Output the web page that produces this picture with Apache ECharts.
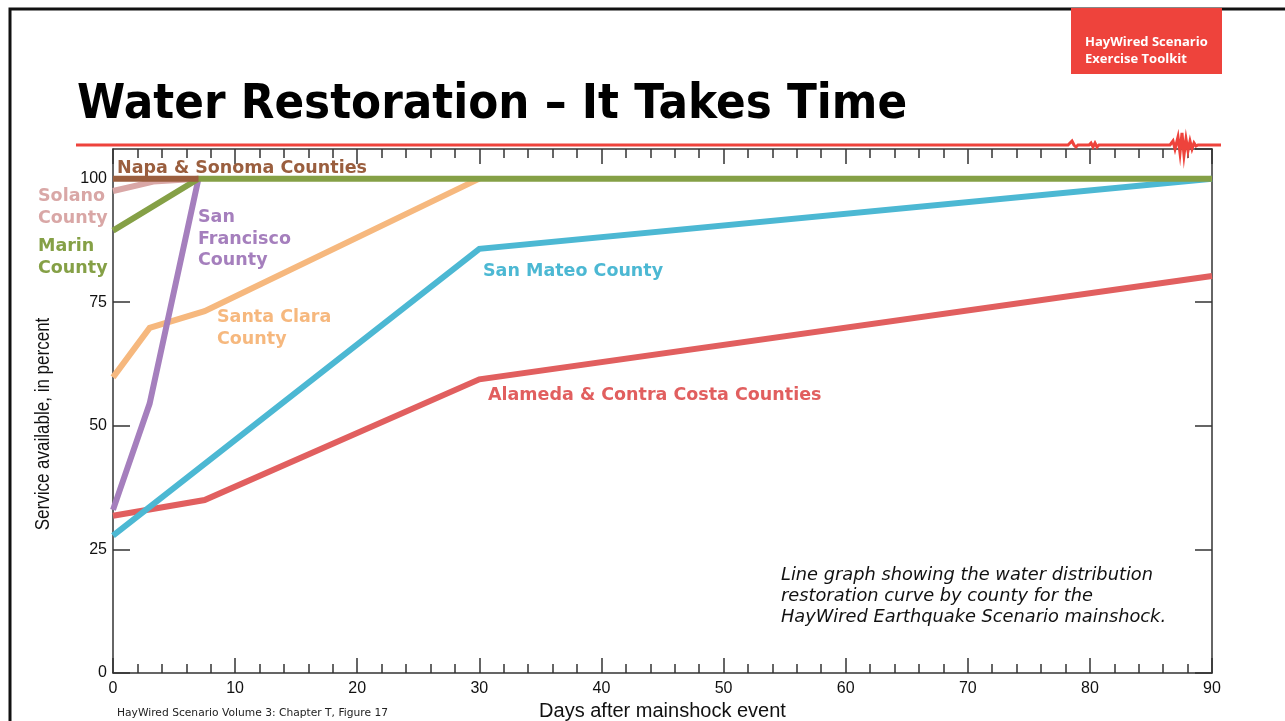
<!DOCTYPE html>
<html><head><meta charset="utf-8">
<script src="https://cdn.jsdelivr.net/npm/echarts@6/dist/echarts.min.js"></script>
<style>html,body{margin:0;padding:0;background:#fff}#c{width:1285px;height:721px}</style>
</head><body><div id="c"></div>
<script>
// Data (days after mainshock, percent service available)
const napaSonoma = [[0,100],[7,100]];
const solano = [[0,97.5],[3.3,99.4],[7,100]];
const marin = [[0,89.5],[7,100],[90,100]];
const sanFrancisco = [[0,33],[3,54.5],[7,100]];
const santaClara = [[0,59.8],[3,69.8],[7.5,73.2],[30,100]];
const sanMateo = [[0,27.8],[30,85.8],[90,100]];
const alameda = [[0,31.8],[7.5,35],[30,59.4],[90,80.3]];
const xTicks = [0,10,20,30,40,50,60,70,80,90];
const yTicks = [0,25,50,75,100];

const C = {
  napa:'#9a5e3e', solano:'#d9a7a6', marin:'#85a046', sf:'#a57fbd',
  sc:'#f6b87e', sm:'#4cb8d3', al:'#e15f5f'
};
const NARROW = '"Liberation Sans Narrow", "Liberation Sans", Arial, sans-serif';
const chart = echarts.init(document.getElementById('c'), null, {renderer:'canvas'});
const lbl = (t, x, y, color) => ({type:'text', left:x, top:y, z:50,
  style:{text:t, fill:color, font:'bold 17.5px "DejaVu Sans", Verdana, sans-serif', lineHeight:21.5}});
function line(name, data, color, z){
  return {name, type:'line', data, xAxisIndex:0, yAxisIndex:0, symbol:'none', z,
    lineStyle:{color, width:6, join:'miter'}, silent:true, animation:false};
}
const axisLine = {show:true, onZero:false, lineStyle:{color:'#333', width:1.5}};
const tickStyle = {color:'#333', width:1.5};
chart.setOption({
  animation:false,
  grid:{left:113, right:73, top:149, bottom:48, containLabel:false, outerBoundsMode:'none'},
  xAxis:[
    {type:'value', min:0, max:90, interval:10, position:'bottom', axisLine, splitLine:{show:false},
      name:'Days after mainshock event', nameLocation:'middle', nameGap:27,
      nameTextStyle:{fontFamily:NARROW, fontSize:20, color:'#111'},
      axisTick:{show:true, inside:true, length:15, lineStyle:tickStyle},
      minorTick:{show:true, splitNumber:5, length:9, lineStyle:tickStyle},
      axisLabel:{fontFamily:NARROW, fontSize:16, color:'#111', margin:8,
        formatter:v=>xTicks.includes(v)?String(v):''}},
    {type:'value', min:0, max:90, interval:10, position:'top', axisLine, splitLine:{show:false},
      axisTick:{show:true, inside:true, length:15, lineStyle:tickStyle},
      minorTick:{show:true, splitNumber:5, length:9, lineStyle:tickStyle},
      axisLabel:{show:false}}
  ],
  yAxis:[
    {type:'value', min:0, max:106, interval:25, position:'left', axisLine, splitLine:{show:false},
      axisTick:{show:true, inside:true, length:17, lineStyle:tickStyle},
      axisLabel:{fontFamily:NARROW, fontSize:16, color:'#111', margin:6,
        showMaxLabel:false, formatter:v=>yTicks.includes(v)?String(v):''}},
    {type:'value', min:0, max:106, interval:25, position:'right', axisLine, splitLine:{show:false},
      axisTick:{show:true, inside:true, length:17, lineStyle:tickStyle},
      axisLabel:{show:false}}
  ],
  series:[
    line('Alameda & Contra Costa Counties', alameda, C.al, 3),
    line('San Mateo County', sanMateo, C.sm, 4),
    line('Santa Clara County', santaClara, C.sc, 5),
    line('San Francisco County', sanFrancisco, C.sf, 6),
    line('Solano County', solano, C.solano, 7),
    line('Marin County', marin, C.marin, 8),
    line('Napa & Sonoma Counties', napaSonoma, C.napa, 9)
  ],
  graphic:[
    // slide frame
    {type:'polyline', z:1, shape:{points:[[10,721],[10,9],[1285,9]]}, style:{stroke:'#111', lineWidth:3, fill:null}},
    // badge
    {type:'rect', z:2, shape:{x:1071, y:8, width:151, height:66}, style:{fill:'#ee433c'}},
    {type:'text', z:3, left:1085, top:34, style:{text:'HayWired Scenario\nExercise Toolkit', fill:'#fff',
      font:'bold 13px "Open Sans", "DejaVu Sans", sans-serif', lineHeight:17}},
    // title
    {type:'text', z:3, x:77, y:106, scaleX:0.912, style:{text:'Water Restoration – It Takes Time', fill:'#000',
      font:'bold 48px "DejaVu Sans", sans-serif', verticalAlign:'middle', align:'left'}},
    // y axis title (condensed)
    {type:'text', z:3, x:43, y:424, rotation:Math.PI/2, scaleX:0.85, style:{text:'Service available, in percent', fill:'#111',
      font:'20px "Liberation Sans", Arial, sans-serif', align:'center', verticalAlign:'middle'}},
    // red header rule with seismogram
    {type:'polyline', z:3, shape:{points:[[76,145],[1068,145],[1070,143],[1072,141],[1074,145],[1076,147],[1078,145],
      [1089,145],[1091,143],[1093,147],[1095,143],[1097,147],[1099,145],
      [1170,145],[1173,141],[1175,149],[1178,137],[1180,153],[1182,133],[1184,155],[1186,139],[1188,151],[1190,141],[1192,149],[1194,143],[1196,146],[1198,145],[1221,145]]},
      style:{stroke:'#ee433c', lineWidth:3, fill:null}},
    // series labels
    lbl('Napa & Sonoma Counties', 117, 158, C.napa),
    lbl('Solano\nCounty', 38, 186, C.solano),
    lbl('Marin\nCounty', 38, 236, C.marin),
    lbl('San\nFrancisco\nCounty', 198, 207, C.sf),
    lbl('Santa Clara\nCounty', 217, 307, C.sc),
    lbl('San Mateo County', 483, 261, C.sm),
    lbl('Alameda & Contra Costa Counties', 488, 385, C.al),
    // note
    {type:'text', z:3, left:781, top:565, style:{text:'Line graph showing the water distribution\nrestoration curve by county for the\nHayWired Earthquake Scenario mainshock.',
      fill:'#111', font:'italic 17.8px "DejaVu Sans", Verdana, sans-serif', lineHeight:21}},
    // footer
    {type:'text', z:3, left:117, top:708, style:{text:'HayWired Scenario Volume 3: Chapter T, Figure 17', fill:'#222',
      font:'10.7px "DejaVu Sans", Verdana, sans-serif'}}
  ]
});
</script></body></html>
